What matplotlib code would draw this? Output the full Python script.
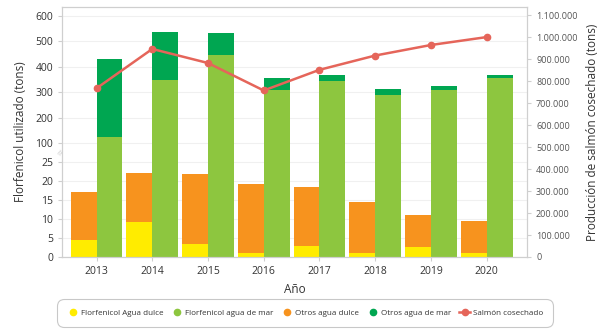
import numpy as np
import matplotlib
matplotlib.use("Agg")
import matplotlib.pyplot as plt
from matplotlib.lines import Line2D
from matplotlib.ticker import FuncFormatter

years = [2013, 2014, 2015, 2016, 2017, 2018, 2019, 2020]
flor_dulce = [4.5, 9.3, 3.5, 1.1, 2.9, 1.1, 2.7, 1.1]
otros_dulce = [12.8, 13.0, 18.3, 18.2, 15.6, 13.3, 8.3, 8.3]
flor_mar = [126, 349, 444, 309, 345, 289, 308, 354]
otros_mar = [305, 189, 88, 46, 22, 23, 18, 13]
salmon = [768000, 947000, 883000, 758000, 852000, 917000, 965000, 1001000]

left_ticks = [0, 5, 10, 15, 20, 25, 100, 200, 300, 400, 500, 600]
right_ticks = list(range(0, 1100001, 100000))

# broken axis: 0-25 stretched, 25-100 squeezed, 100-600 compressed
brk_d = [0, 25, 100, 1000]
brk_p = [0, 94.4, 113.4, 113.4 + 900 * 0.2546]

def fwd(y):
    return np.interp(y, brk_d, brk_p)

def inv(p):
    return np.interp(p, brk_p, brk_d)

plt.rcParams['font.family'] = ['Open Sans', 'DejaVu Sans']

fig = plt.figure(figsize=(6.02, 3.34), dpi=100)
ax = fig.add_axes([62 / 602, 1 - 257 / 334, 465 / 602, 250 / 334])
ax.set_yscale('function', functions=(fwd, inv))

x = np.array(years)
w = 0.465
fd = np.array(flor_dulce)
od = np.array(otros_dulce)
fm = np.array(flor_mar)
om = np.array(otros_mar)

ax.bar(x - w, fd, w, align='edge', color='#FFEC00', zorder=2)
ax.bar(x - w, od, w, bottom=fd, align='edge', color='#F7931E', zorder=2)
ax.bar(x, fm, w, align='edge', color='#8DC63F', zorder=2)
ax.bar(x, om, w, bottom=fm, align='edge', color='#00A651', zorder=2)

ax.set_xlim(2012.38, 2020.725)
ax.set_ylim(0, 634)
ax.set_yticks(left_ticks)
ax.set_yticklabels([str(t) for t in left_ticks])
ax.set_xticks(years)
ax.yaxis.grid(True, color='#f0f0f0', lw=0.8, zorder=0)
ax.set_axisbelow(True)

ax2 = ax.twinx()
ax2.plot(years, salmon, color='#E5655A', lw=1.8, marker='o', ms=4.5, zorder=5)
ax2.set_ylim(0, 1138000)
ax2.set_yticks(right_ticks)
ax2.yaxis.set_major_formatter(FuncFormatter(lambda v, p: f"{int(v):,}".replace(',', '.')))

for a in (ax, ax2):
    for s in a.spines.values():
        s.set_color('#cfcfcf')
        s.set_linewidth(0.8)
    a.tick_params(colors='#cfcfcf', labelcolor='#333333', length=3, width=0.8, labelsize=7.5)
ax2.tick_params(labelsize=6.5, labelcolor='#555555')

ax.text(0, 62, '\u2248', transform=ax.get_yaxis_transform(), ha='center', va='center',
        fontsize=8, color='#cccccc', rotation=60)

ax.set_ylabel('Florfenicol utilizado (tons)', fontsize=8.5, color='#333333', labelpad=6)
ax2.set_ylabel('Producción de salmón cosechado (tons)', fontsize=8.5, color='#333333', labelpad=6)
ax.set_xlabel('Año', fontsize=8.5, color='#333333', labelpad=4)

handles = [
    Line2D([], [], ls='none', marker='o', ms=4.5, color='#FFEC00'),
    Line2D([], [], ls='none', marker='o', ms=4.5, color='#8DC63F'),
    Line2D([], [], ls='none', marker='o', ms=4.5, color='#F7931E'),
    Line2D([], [], ls='none', marker='o', ms=4.5, color='#00A651'),
    Line2D([], [], color='#E5655A', lw=1.8, marker='o', ms=4.5),
]
labels = ['Florfenicol Agua dulce', 'Florfenicol agua de mar', 'Otros agua dulce',
          'Otros agua de mar', 'Salmón cosechado']
leg = fig.legend(handles, labels, loc='center', bbox_to_anchor=(305 / 602, 1 - 313 / 334),
                 ncol=5, fontsize=5.8, frameon=True, fancybox=True, edgecolor='#bbbbbb',
                 handlelength=1.4, handletextpad=0.3, columnspacing=1.0,
                 borderpad=0.8, labelcolor='#333333')
leg.get_frame().set_linewidth(0.8)
leg.get_frame().set_boxstyle('round', pad=0.5, rounding_size=0.9)

fig.savefig('out.png', dpi=100)
